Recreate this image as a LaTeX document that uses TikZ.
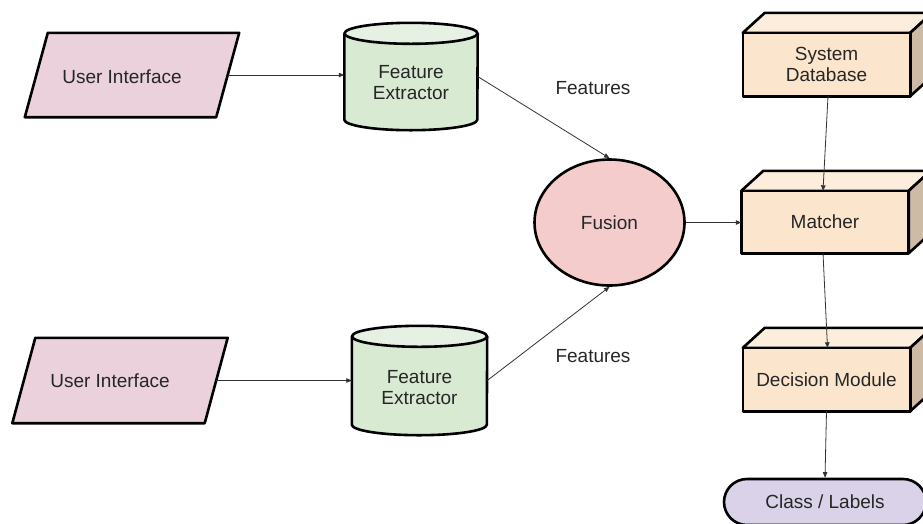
\documentclass[tikz,border=0pt]{standalone}
\usepackage{fontspec}
\setmainfont{Liberation Sans}
\usetikzlibrary{shapes.geometric,shapes.misc,arrows.meta,calc}
\definecolor{uipink}{HTML}{EAD1DC}
\definecolor{cylbody}{HTML}{D9EAD3}
\definecolor{cyltop}{HTML}{E7F1E3}
\definecolor{fusionred}{HTML}{F4CCCC}
\definecolor{cubefront}{HTML}{FCE5CD}
\definecolor{cubetop}{HTML}{FDEDDC}
\definecolor{cubeside}{HTML}{CDBBA6}
\definecolor{classlav}{HTML}{D9D2E9}
\definecolor{txtcol}{HTML}{262626}
\definecolor{conncol}{HTML}{333333}
\pgfdeclarelayer{background}
\pgfsetlayers{background,main}
\tikzset{
  txt/.style={font=\fontsize{19}{21}\selectfont, text=txtcol, align=center, inner sep=0pt},
  holder/.style={inner sep=0pt},
  shapeline/.style={draw=black, line width=2.6pt, line join=round},
  conn/.style={draw=conncol, line width=0.8pt, -{Triangle[length=5.5pt,width=4.5pt]}}
}
\begin{document}
\begin{tikzpicture}[x=1pt,y=-1pt]
\useasboundingbox (0,0) rectangle (923,523);
\clip (0,0) rectangle (923,523);

% holders / nodes
\node[holder, minimum width=191pt, minimum height=84pt,
      label={[txt,xshift=-10pt,yshift=-2pt]center:User Interface}] (ui1) at (132,75) {};
\node[holder, minimum width=192pt, minimum height=85pt,
      label={[txt,xshift=-10pt]center:User Interface}] (ui2) at (120,380.5) {};
\node[holder, minimum width=133pt, minimum height=107pt,
      label={[txt,yshift=-6.5pt]center:Feature\\Extractor}] (fe1) at (411,76.5) {};
\node[holder, minimum width=135pt, minimum height=109pt,
      label={[txt,yshift=-7.5pt]center:Feature\\Extractor}] (fe2) at (419.5,380.5) {};

\node[txt, ellipse, draw=black, line width=2.6pt, fill=fusionred,
      minimum width=150pt, minimum height=126pt] (fus) at (609.5,222.5) {Fusion};

\node[txt, minimum width=167pt, minimum height=63pt] (db) at (826.5,64.5) {System\\Database};
\node[txt, minimum width=167pt, minimum height=62pt] (mat) at (825,222) {Matcher};
\node[txt, minimum width=167pt, minimum height=63pt] (dec) at (826.5,379.5) {Decision Module};

\node[txt, rounded rectangle, draw=black, line width=2.6pt, fill=classlav,
      minimum width=202pt, minimum height=46pt] (cls) at (825,502) {Class / Labels};

\node[txt] (f1) at (593,88) {Features};
\node[txt] (f2) at (593,356) {Features};

% shapes drawn behind the texts
\begin{pgfonlayer}{background}
  \foreach \n in {ui1,ui2}{
    \filldraw[shapeline, fill=uipink]
      ($(\n.north west)+(11.5,0)$) -- ($(\n.north east)+(11.5,0)$) --
      ($(\n.south east)+(-11.5,0)$) -- ($(\n.south west)+(-11.5,0)$) -- cycle;
  }
  \foreach \n/\rx in {fe1/66.5,fe2/67.5}{
    \filldraw[shapeline, fill=cylbody]
      ($(\n.north west)+(0,10.5)$) -- ($(\n.south west)+(0,-10.5)$)
      arc[start angle=180, end angle=360, x radius=\rx pt, y radius=10.5pt]
      -- ($(\n.north east)+(0,10.5)$);
    \filldraw[shapeline, fill=cyltop]
      ($(\n.north)+(0,10.5)$) ellipse[x radius=\rx pt, y radius=10.5pt];
  }
  \foreach \n in {db,mat,dec}{
    \filldraw[shapeline, fill=cubetop]
      (\n.north west) -- ++(22,-20) -- ($(\n.north east)+(22,-20)$) -- (\n.north east) -- cycle;
    \filldraw[shapeline, fill=cubeside]
      (\n.north east) -- ++(22,-20) -- ($(\n.south east)+(22,-20)$) -- (\n.south east) -- cycle;
    \filldraw[shapeline, fill=cubefront] (\n.north west) rectangle (\n.south east);
  }
\end{pgfonlayer}

% connectors
\draw[conn] (ui1.east) -- (ui1.east -| fe1.west);
\draw[conn] (ui2.east) -- (ui2.east -| fe2.west);
\draw[conn] (fe1.east) -- (fus.north);
\draw[conn] (fe2.east) -- (fus.south);
\draw[conn] (fus.east) -- (fus.east -| mat.west);
\draw[conn] ([xshift=1.5pt]db.south) -- ([xshift=-2pt]mat.north);
\draw[conn] ([xshift=-2pt]mat.south) -- ([xshift=1pt]dec.north);
\draw[conn] (dec.south) -- (cls.north);
\end{tikzpicture}
\end{document}
